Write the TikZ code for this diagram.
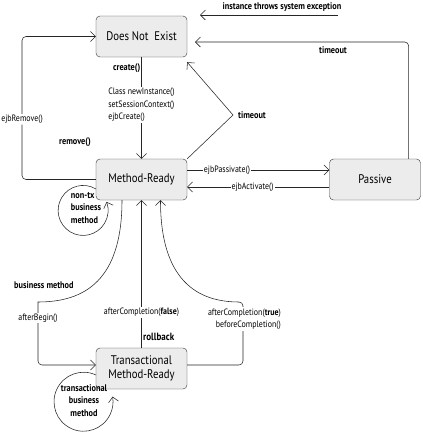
\documentclass[tikz,border=0pt]{standalone}
\usepackage{fontspec}
\setmainfont[FakeStretch=0.86]{PT Sans}
\usetikzlibrary{calc,positioning,arrows.meta}

\begin{document}
\begin{tikzpicture}[x=1pt,y=-1pt,
state/.style = {rectangle, rounded corners=4pt, draw=black!80, fill=gray!15,
                minimum width=91pt, minimum height=41pt, align=center,
                font=\fontsize{12.5}{14}\selectfont, inner sep=2pt},
lbl/.style = {font=\fontsize{9.2}{12.5}\selectfont, inner sep=1pt},
blbl/.style = {inner sep=1pt, font=\fontsize{9.6}{12.5}\selectfont\bfseries},
line/.style = {draw=black!85, line width=0.55pt, -{Straight Barb[length=5pt,width=10pt]}}]

\useasboundingbox (0,0) rectangle (423,432);

\node [state] (notexist) at (141.5,36.5) {Does Not\ \ Exist};
\node [state] (ready) at (141.5,179.5) {Method-Ready};
\node [state] (passive) at (375,179.5) {Passive};
\node [state] (txready) at (141.5,368.5) {Transactional\\Method-Ready};

\coordinate (tbend) at (233,115);
\coordinate (exc_from) at (338,15);
\coordinate (exc_to) at (200,15);
\coordinate (to_tip) at (195,42);
\coordinate (rm_corner) at (22,36.5);
\coordinate (ntx_start) at (96,189);
\coordinate (tx_start) at (96,375);
\coordinate (bm_corner) at (38,302);
\coordinate (ac_corner) at (243,302);

\begin{scope}[every path/.style=line]
\path (notexist) -- node [blbl, left, pos=0.11] {create()}
  node [lbl, fill=white, align=left, pos=0.47] {Class newInstance()\\setSessionContext()\\ejbCreate()} (ready);
\path [rounded corners=4pt] (ready.west) -| node [lbl, fill=white, pos=0.71] {ejbRemove()} (rm_corner) -- (notexist.west);
\path (ready.north east) -- (tbend) -- ($(notexist.south east)+(0,5)$);
\path (exc_from) -- (exc_to);
\path [rounded corners=4pt] ($(passive.north east)+(-12,0)$) |- (to_tip);

\path ([yshift=9.5pt]ready.east) -- node [lbl, fill=white, pos=0.28] {ejbPassivate()} ([yshift=9.5pt]passive.west);
\path ([yshift=-7.5pt]passive.west) -- node [lbl, fill=white, pos=0.54] {ejbActivate()} ([yshift=-7.5pt]ready.east);

\path (ntx_start) arc [start angle=-59, end angle=-380, radius=25];
\path (tx_start) arc [start angle=-65, end angle=-370, radius=29.5];

\path ([xshift=-19.5pt]ready.south) .. controls (122,280) and (85,302) .. (bm_corner)
  [rounded corners=4pt] |- ([yshift=3.5pt]txready.west);
\path (txready.north) -- node [lbl, fill=white, pos=0.24] {afterCompletion(\textbf{false})} (ready.south);
\path ([yshift=3.5pt]txready.east) [rounded corners=4pt] -| (ac_corner) [sharp corners]
  .. controls (197,302) and (160.5,280) .. ([xshift=19pt]ready.south);
\end{scope}

\node [blbl] (remove_lbl) at (75,142) {remove()};
\node [blbl, anchor=west] (timeout1) at ($(tbend)+(4,0)$) {timeout};
\node [blbl] (exc_lbl) at (282,7) {instance throws system exception};
\node [blbl] (timeout2) at (333,50) {timeout};
\node [blbl, align=left] (ntx_lbl) at (86,208) {non-tx\\business\\method};
\node [blbl, align=center] (tx_lbl) at (84,400.5) {transactional\\business\\method};
\node [blbl, anchor=west] (bm_lbl) at (13,285) {business method};
\node [lbl, fill=white] (ab_lbl) at (38,318) {afterBegin()};
\node [blbl, anchor=west, font=\fontsize{10.5}{12}\selectfont\bfseries] (rb_lbl) at (142,337) {rollback};
\node [lbl, fill=white, align=right, anchor=east] (ac_lbl) at (282,319) {afterCompletion(\textbf{true})\\beforeCompletion()};
\end{tikzpicture}
\end{document}
